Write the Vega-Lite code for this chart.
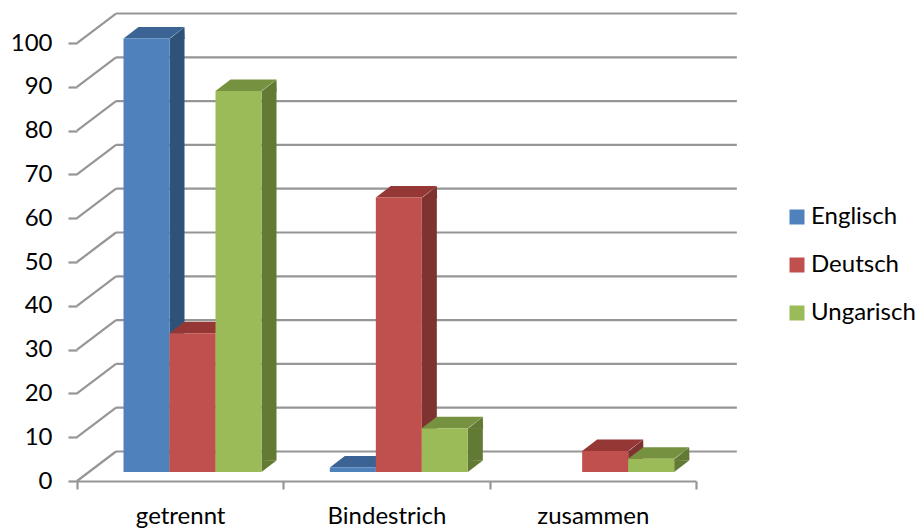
{
"$schema":"https://vega.github.io/schema/vega-lite/v6.json",
"autosize":"none",
"width":619,"height":468,
"padding":{"left":77,"top":13,"right":225,"bottom":49},
"background":"white",
"config":{"font":"Lato","view":{"stroke":null}},
"datasets":{
"bars":[
{"category":"getrennt","series":"Englisch","value":99},
{"category":"getrennt","series":"Deutsch","value":31.7},
{"category":"getrennt","series":"Ungarisch","value":87},
{"category":"Bindestrich","series":"Englisch","value":1},
{"category":"Bindestrich","series":"Deutsch","value":62.7},
{"category":"Bindestrich","series":"Ungarisch","value":10},
{"category":"zusammen","series":"Deutsch","value":4.8},
{"category":"zusammen","series":"Ungarisch","value":3}
],
"ticks":[{"tick":0},{"tick":10},{"tick":20},{"tick":30},{"tick":40},{"tick":50},{"tick":60},{"tick":70},{"tick":80},{"tick":90},{"tick":100}]
},
"layer":[
{"data":{"name":"ticks"},
 "mark":{"type":"rule","stroke":"#969696","strokeWidth":2.2,"y2Offset":-29.5},
 "encoding":{
  "x":{"datum":0,"type":"quantitative","scale":{"domain":[0,3]},"axis":null},
  "x2":{"datum":0.189},
  "y":{"field":"tick","type":"quantitative","scale":{"domain":[0,106.85],"nice":false},
   "axis":{"title":null,"values":[0,10,20,30,40,50,60,70,80,90,100],"grid":false,"domain":false,"tickSize":9,"tickWidth":2.2,"tickColor":"#969696","labelFontSize":24,"labelColor":"#000000","labelPadding":16,"labelFont":"Lato"}},
  "y2":{"field":"tick"}}},
{"data":{"name":"ticks"},
 "mark":{"type":"rule","stroke":"#969696","strokeWidth":2.2,"yOffset":-29.5,"y2Offset":-29.5},
 "encoding":{
  "x":{"datum":0.189,"type":"quantitative","scale":{"domain":[0,3]},"axis":null},
  "x2":{"datum":3.198},
  "y":{"field":"tick","type":"quantitative"},
  "y2":{"field":"tick"}}},
{"mark":{"type":"rule","stroke":"#969696","strokeWidth":2.2},
 "encoding":{
  "x":{"datum":0,"type":"quantitative","scale":{"domain":[0,3]},"axis":null},
  "y":{"datum":0,"type":"quantitative"},
  "y2":{"datum":100}}},
{"mark":{"type":"rule","stroke":"#969696","strokeWidth":2.2,"y2Offset":-29.5},
 "encoding":{
  "x":{"datum":3,"type":"quantitative","scale":{"domain":[0,3]},"axis":null},
  "x2":{"datum":3.198},
  "y":{"datum":0,"type":"quantitative"},
  "y2":{"datum":0}}},
{"data":{"name":"bars"},
 "mark":{"type":"bar","width":15,"yOffset":-9,"y2Offset":-20.5},
 "encoding":{
  "x":{"field":"category","type":"nominal","sort":null,"scale":{"paddingInner":0,"paddingOuter":0},"axis":null},
  "xOffset":{"field":"series","sort":["Englisch","Deutsch","Ungarisch"],"scale":{"range":[77,215],"paddingInner":0,"paddingOuter":0}},
  "y":{"field":"value","type":"quantitative"},
  "y2":{"datum":0},
  "color":{"field":"series","scale":{"domain":["Englisch","Deutsch","Ungarisch"],"range":["#2f5279","#7f3331","#637a35"]},"legend":null}}},
{"data":{"name":"bars"},
 "mark":{"type":"point","filled":true,"opacity":1,"size":4,"shape":"M46 0.5 L61 -11.5 L61.3 0.5 Z","yOffset":-9},
 "encoding":{
  "x":{"field":"category","type":"nominal","sort":null,"scale":{"paddingInner":0,"paddingOuter":0},"axis":null},
  "xOffset":{"field":"series","sort":["Englisch","Deutsch","Ungarisch"],"scale":{"range":[46.5,138.5],"padding":0}},
  "y":{"field":"value","type":"quantitative"},
  "color":{"field":"series","scale":{"domain":["Englisch","Deutsch","Ungarisch"],"range":["#2f5279","#7f3331","#637a35"]},"legend":null}}},
{"data":{"name":"bars"},
 "mark":{"type":"point","filled":true,"opacity":1,"size":4,"shape":"M46 0 L61 -11.5 L46 -12 Z","yOffset":-9},
 "encoding":{
  "x":{"field":"category","type":"nominal","sort":null,"scale":{"paddingInner":0,"paddingOuter":0},"axis":null},
  "xOffset":{"field":"series","sort":["Englisch","Deutsch","Ungarisch"],"scale":{"range":[46.5,138.5],"padding":0}},
  "y":{"datum":0,"type":"quantitative"},
  "color":{"field":"series","scale":{"domain":["Englisch","Deutsch","Ungarisch"],"range":["#2f5279","#7f3331","#637a35"]},"legend":null}}},
{"data":{"name":"bars"},
 "mark":{"type":"point","filled":true,"opacity":1,"size":4,"shape":"M0 0 L46 0 L61 -11.5 L15 -11.5 Z","yOffset":-9},
 "encoding":{
  "x":{"field":"category","type":"nominal","sort":null,"scale":{"paddingInner":0,"paddingOuter":0},"axis":null},
  "xOffset":{"field":"series","sort":["Englisch","Deutsch","Ungarisch"],"scale":{"range":[46.5,138.5],"padding":0}},
  "y":{"field":"value","type":"quantitative"},
  "color":{"field":"series","scale":{"domain":["Englisch","Deutsch","Ungarisch"],"range":["#3b6495","#943735","#769240"]},"legend":null}}},
{"data":{"name":"bars"},
 "mark":{"type":"bar","yOffset":-9,"y2Offset":-9},
 "encoding":{
  "x":{"field":"category","type":"nominal","sort":null,"scale":{"paddingInner":0,"paddingOuter":0},
   "axis":{"title":null,"labelAngle":0,"tickBand":"extent","tickSize":8,"tickWidth":2.2,"tickColor":"#969696","domainColor":"#969696","domainWidth":2.2,"labelFontSize":24,"labelColor":"#000000","labelPadding":15,"labelFont":"Lato"}},
  "xOffset":{"field":"series","sort":["Englisch","Deutsch","Ungarisch"],"scale":{"range":[46.5,184.5],"paddingInner":0,"paddingOuter":0}},
  "y":{"field":"value","type":"quantitative"},
  "y2":{"datum":0},
  "color":{"field":"series","scale":{"domain":["Englisch","Deutsch","Ungarisch"],"range":["#4f81bd","#c0504d","#9bbb59"]},
   "legend":{"title":null,"orient":"none","legendX":708,"legendY":192,"symbolType":"square","symbolSize":225,"symbolStrokeWidth":0,"labelFontSize":24,"labelColor":"#000000","labelFont":"Lato","rowPadding":24,"labelOffset":2}}}}
],
"resolve":{"scale":{"x":"independent","color":"independent","xOffset":"independent"}}
}
